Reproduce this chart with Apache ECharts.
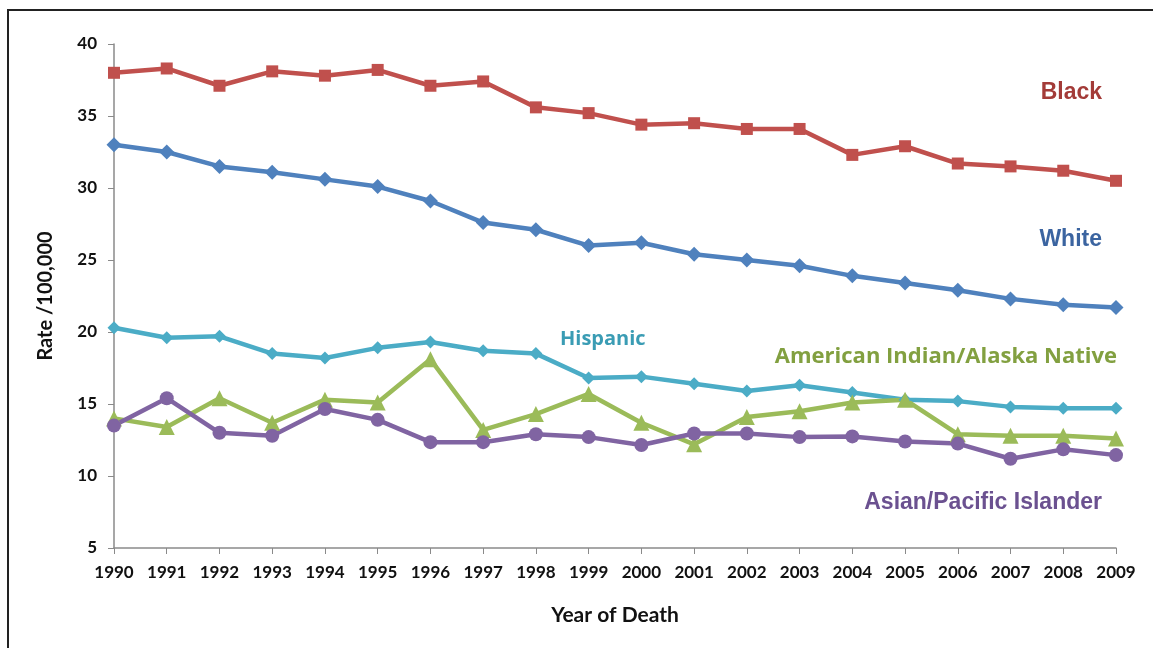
<!DOCTYPE html>
<html><head><meta charset="utf-8">
<script src="https://cdn.jsdelivr.net/npm/echarts@6/dist/echarts.min.js"></script>
<style>
html,body{margin:0;padding:0;background:#fff;}
#frame{position:absolute;left:7px;top:9px;width:1200px;height:700px;border-left:2px solid #222;border-top:2px solid #222;}
#c{position:absolute;left:0;top:0;width:1153px;height:648px;}
</style></head>
<body>
<div id="frame"></div>
<div id="c"></div>
<script>
const years = ['1990','1991','1992','1993','1994','1995','1996','1997','1998','1999','2000','2001','2002','2003','2004','2005','2006','2007','2008','2009'];
const black = [38.0,38.3,37.1,38.1,37.8,38.2,37.1,37.4,35.6,35.2,34.4,34.5,34.1,34.1,32.3,32.9,31.7,31.5,31.2,30.5];
const white = [33.0,32.5,31.5,31.1,30.6,30.1,29.1,27.6,27.1,26.0,26.2,25.4,25.0,24.6,23.9,23.4,22.9,22.3,21.9,21.7];
const hispanic = [20.3,19.6,19.7,18.5,18.2,18.9,19.3,18.7,18.5,16.8,16.9,16.4,15.9,16.3,15.8,15.3,15.2,14.8,14.7,14.7];
const aian = [14.0,13.4,15.4,13.7,15.3,15.1,18.1,13.2,14.3,15.7,13.7,12.2,14.1,14.5,15.1,15.3,12.9,12.8,12.8,12.6];
const api = [13.5,15.4,13.0,12.8,14.65,13.9,12.35,12.35,12.9,12.7,12.15,12.95,12.95,12.7,12.75,12.4,12.25,11.2,11.85,11.45];
const yTicks = [5,10,15,20,25,30,35,40];

const chart = echarts.init(document.getElementById('c'));
const gothic = '"Lato","Noto Sans",sans-serif';
const arial = '"Liberation Sans", Arial, sans-serif';
function mk(name, data, color, symbol, size){
  return {name, type:'line', data, symbol, symbolSize:size,
    lineStyle:{color, width:4.5}, itemStyle:{color}, z: 2};
}
chart.setOption({
  animation:false,
  backgroundColor:'transparent',
  grid:{left:114, right:37, top:44, bottom:100},
  xAxis:{type:'category', data:years, boundaryGap:false,
    axisLine:{lineStyle:{color:'#8a8a8a', width:1.5}},
    axisTick:{show:true, length:6, inside:false, lineStyle:{color:'#8a8a8a'}},
    axisLabel:{color:'#111', fontFamily:gothic, fontSize:17, fontWeight:'bold', margin:16, interval:0},
    name:'Year of Death', nameLocation:'middle', nameGap:57,
    nameTextStyle:{color:'#111', fontFamily:gothic, fontSize:21, fontWeight:'bold'}},
  yAxis:{type:'value', min:5, max:40, interval:5,
    axisLine:{show:true, lineStyle:{color:'#8a8a8a', width:1.5}},
    axisTick:{show:true, length:6, lineStyle:{color:'#8a8a8a'}},
    splitLine:{show:false},
    axisLabel:{color:'#111', fontFamily:gothic, fontSize:17, fontWeight:'bold', margin:17,
      formatter: v => yTicks.includes(v) ? String(v) : ''},
    name:'Rate /100,000', nameLocation:'middle', nameGap:58, nameRotate:90,
    nameTextStyle:{color:'#111', fontFamily:gothic, fontSize:20, fontWeight:'bold'}},
  series:[
    mk('Black', black, '#c0504d', 'rect', 12),
    mk('White', white, '#4f81bd', 'diamond', 15),
    mk('Hispanic', hispanic, '#4bacc6', 'diamond', 13),
    mk('American Indian/Alaska Native', aian, '#9bbb59', 'triangle', 16),
    mk('Asian/Pacific Islander', api, '#8064a2', 'circle', 14)
  ],
  graphic:[
    {type:'text', x:1102, y:93, style:{text:'Black', fill:'#a33b38', font:'bold 23px ' + arial, align:'right', verticalAlign:'middle'}},
    {type:'text', x:1102, y:240, style:{text:'White', fill:'#3b64a0', font:'bold 23px ' + arial, align:'right', verticalAlign:'middle'}},
    {type:'text', x:560, y:339, style:{text:'Hispanic', fill:'#3a9cb4', font:'bold 20px "Open Sans", sans-serif', align:'left', verticalAlign:'middle'}},
    {type:'text', x:1117, y:357, style:{text:'American Indian/Alaska Native', fill:'#82a040', font:'bold 22px "Open Sans", sans-serif', align:'right', verticalAlign:'middle'}},
    {type:'text', x:1102, y:503, style:{text:'Asian/Pacific Islander', fill:'#6b5190', font:'bold 23px ' + arial, align:'right', verticalAlign:'middle'}}
  ]
});
</script>
</body></html>
